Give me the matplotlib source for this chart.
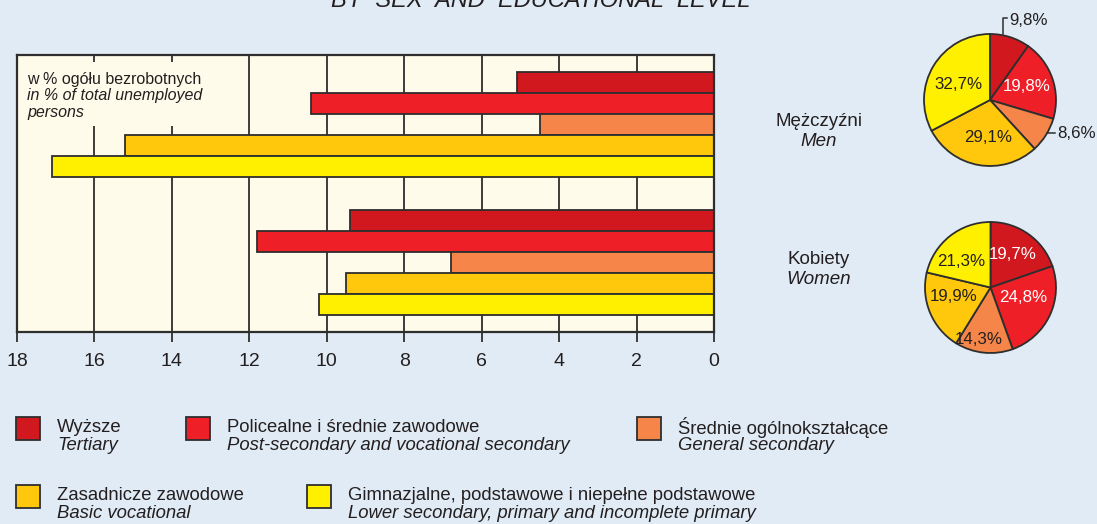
import matplotlib
matplotlib.use('Agg')
import matplotlib.pyplot as plt
from matplotlib.patches import Rectangle
import numpy as np

plt.rcParams['font.family'] = ['Liberation Sans', 'DejaVu Sans']

# data
levels_pl = ['Wyższe', 'Policealne i średnie zawodowe', 'Średnie ogólnokształcące',
             'Zasadnicze zawodowe', 'Gimnazjalne, podstawowe i niepełne podstawowe']
levels_en = ['Tertiary', 'Post-secondary and vocational secondary', 'General secondary',
             'Basic vocational', 'Lower secondary, primary and incomplete primary']
men_total_pct = [5.1, 10.4, 4.5, 15.2, 17.1]
women_total_pct = [9.4, 11.8, 6.8, 9.5, 10.2]
men_share = [9.8, 19.8, 8.6, 29.1, 32.7]
women_share = [19.7, 24.8, 14.3, 19.9, 21.3]
x_ticks = [18, 16, 14, 12, 10, 8, 6, 4, 2, 0]

colors = ['#D2181F', '#EE1F26', '#F58548', '#FFC80C', '#FFF000']
bg = '#E1EBF5'
cream = '#FEFBEA'
edge = '#2E2E2E'
txt = '#231F20'

W, H = 1097, 524
fig = plt.figure(figsize=(W / 100, H / 100), dpi=100, facecolor=bg)

def fx(px):
    return px / W

def fy(py):
    return 1 - py / H

# title (cut off at the top in the original)
fig.text(fx(541), fy(7), 'BY  SEX  AND  EDUCATIONAL  LEVEL', ha='center', va='baseline',
         fontsize=17, style='italic', color=txt)

# ---- bar chart ----
ax = fig.add_axes([fx(17), fy(332), fx(714) - fx(17), fy(55) - fy(332)])
ax.set_facecolor(cream)
group_gap = 6.57
for g, vals in enumerate([men_total_pct, women_total_pct]):
    ys = g * group_gap + np.arange(len(vals))
    ax.barh(ys, vals, height=1.0, color=colors, edgecolor=edge, linewidth=1.3, zorder=2)

ax.set_xlim(18, 0)
ax.set_ylim(11.88, -1.31)
ax.set_xticks(x_ticks)
ax.set_xticklabels([str(t) for t in x_ticks], fontsize=14, color=txt)
ax.tick_params(axis='x', direction='out', length=7, width=1.3, color=edge, pad=8)
ax.set_yticks([])
ax.grid(axis='x', color=edge, linewidth=1.3, zorder=0)
ax.set_axisbelow(True)
for s in ax.spines.values():
    s.set_color(edge)
    s.set_linewidth(1.6)

# note box covering the gridlines
ax.add_patch(Rectangle((0, 0.744), 0.277, 0.231, transform=ax.transAxes,
                       facecolor=cream, edgecolor='none', zorder=1))
ax.text(0.0143, 0.913, 'w % ogółu bezrobotnych', transform=ax.transAxes,
        fontsize=11.5, color=txt, va='center', zorder=3)
ax.text(0.0143, 0.855, 'in % of total unemployed', transform=ax.transAxes,
        fontsize=11.5, style='italic', color=txt, va='center', zorder=3)
ax.text(0.0143, 0.794, 'persons', transform=ax.transAxes,
        fontsize=11.5, style='italic', color=txt, va='center', zorder=3)

# group labels
fig.text(fx(819), fy(121), 'Mężczyźni', ha='center', va='center', fontsize=13.5, color=txt)
fig.text(fx(819), fy(141), 'Men', ha='center', va='center', fontsize=13.5, style='italic', color=txt)
fig.text(fx(819), fy(259), 'Kobiety', ha='center', va='center', fontsize=13.5, color=txt)
fig.text(fx(819), fy(279), 'Women', ha='center', va='center', fontsize=13.5, style='italic', color=txt)

# ---- pies ----
def make_pie(cx, cy, r, shares, label_pos, label_col):
    pax = fig.add_axes([fx(cx - r), fy(cy + r), fx(2 * r), fy(cy - r) - fy(cy + r)])
    pax.pie(shares, colors=colors, startangle=90, counterclock=False,
            wedgeprops=dict(edgecolor=edge, linewidth=1.3))
    pax.set_xlim(-1, 1)
    pax.set_ylim(-1, 1)
    pax.set_aspect('auto')
    pax.axis('off')
    for v, (lx, ly, ha), c in zip(shares, label_pos, label_col):
        lab = f'{v:.1f}%'.replace('.', ',')
        pax.text(lx, ly, lab, ha=ha, va='center', fontsize=12.2, color=c, clip_on=False)
    return pax

men_lab = [(0.29, 1.21, 'left'), (0.55, 0.21, 'center'), (1.02, -0.5, 'left'),
           (-0.03, -0.57, 'center'), (-0.48, 0.23, 'center')]
men_col = [txt, 'white', txt, txt, txt]
pm = make_pie(990, 100, 66, men_share, men_lab, men_col)
# leader lines
pm.plot([0.19, 0.19, 0.26], [1.0, 1.24, 1.24], color=edge, linewidth=1.1, clip_on=False)
pm.plot([0.87, 0.99], [-0.5, -0.5], color=edge, linewidth=1.1, clip_on=False)

women_lab = [(0.34, 0.51, 'center'), (0.50, -0.16, 'center'), (-0.18, -0.80, 'center'),
             (-0.57, -0.14, 'center'), (-0.45, 0.39, 'center')]
women_col = ['white', 'white', txt, txt, txt]
make_pie(990.5, 287.5, 65.5, women_share, women_lab, women_col)

# ---- legend ----
leg_pos = [(16, 417), (186, 417), (637, 417), (16, 485), (307, 485)]
for (px, py), c, pl, en in zip(leg_pos, colors, levels_pl, levels_en):
    fig.patches.append(Rectangle((fx(px), fy(py + 23)), fx(24), fy(0) - fy(23),
                                 transform=fig.transFigure, facecolor=c,
                                 edgecolor=edge, linewidth=1.3))
    fig.text(fx(px + 41), fy(py + 10), pl, va='center', fontsize=13.3, color=txt)
    fig.text(fx(px + 41), fy(py + 29), en, va='center', fontsize=13.3, style='italic', color=txt)

fig.savefig('out.png', dpi=100, facecolor=bg)
